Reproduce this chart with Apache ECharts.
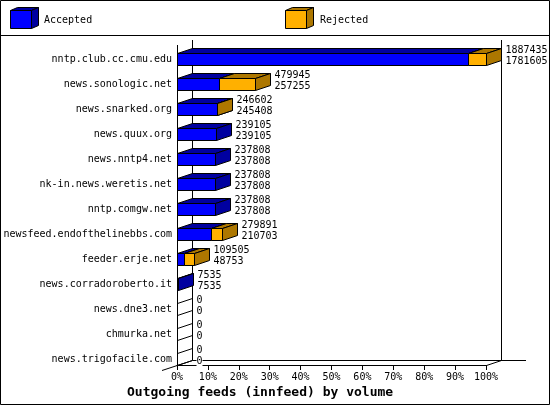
<!DOCTYPE html>
<html><head><meta charset="utf-8">
<style>html,body{margin:0;padding:0;background:#fff}#c{width:550px;height:405px}</style>
<script src="https://cdn.jsdelivr.net/npm/echarts@6/dist/echarts.min.js"></script>
</head><body><div id="c"></div>
<script>
const categories = ["nntp.club.cc.cmu.edu","news.sonologic.net","news.snarked.org","news.quux.org","news.nntp4.net","nk-in.news.weretis.net","nntp.comgw.net","newsfeed.endofthelinebbs.com","feeder.erje.net","news.corradoroberto.it","news.dne3.net","chmurka.net","news.trigofacile.com"];
const offered  = [1887435,479945,246602,239105,237808,237808,237808,279891,109505,7535,0,0,0];
const accepted = [1781605,257255,245408,239105,237808,237808,237808,210703,48753,7535,0,0,0];
const seriesNames = ["Accepted","Rejected"];
const titleText = "Outgoing feeds (innfeed) by volume";
const maxValue = Math.max(...offered);
const pct = v => v / maxValue * 100;

const MONO = '"DejaVu Sans Mono", monospace';
const BLUE = ['#0000ff','#0000a0'], ORANGE = ['#ffb000','#ad7700'];
const DX = 15, DY = -5, H = 12;
const snap = v => Math.round(v - 0.5) + 0.5;

function box(x0, x1, yc, col, isZero) {
  const t = yc - H/2, b = yc + H/2;
  const ls = {stroke:'#000', lineWidth:1};
  if (isZero) {
    // an empty bar leaves only its two edges on the side wall
    return [
      {type:'line', shape:{x1:x0,y1:t,x2:x0+DX,y2:t+DY}, style:ls},
      {type:'line', shape:{x1:x0,y1:b,x2:x0+DX,y2:b+DY}, style:ls}
    ];
  }
  return [
    {type:'polygon', shape:{points:[[x0,t],[x0+DX,t+DY],[x1+DX,t+DY],[x1,t]]}, style:{fill:col[1],...ls}},
    {type:'polygon', shape:{points:[[x1,t],[x1+DX,t+DY],[x1+DX,b+DY],[x1,b]]}, style:{fill:col[1],...ls}},
    {type:'rect', shape:{x:x0,y:t,width:x1-x0,height:H}, style:{fill:col[0],...ls}}
  ];
}
function renderBox(col, withLabels) {
  return (params, api) => {
    const i = api.value(2);
    const p0 = api.coord([api.value(0), i]);
    const p1 = api.coord([api.value(1), i]);
    const x0 = snap(p0[0]), x1 = snap(p1[0]), yc = p0[1];
    const empty = api.value(0) === api.value(1);
    const children = (withLabels && empty) ? [] : box(x0, x1, yc, col, empty);
    if (withLabels) {
      const tx = x1 + DX + 4;
      [[offered[i], -9],[accepted[i], 2]].forEach(([v,o]) => children.push({
        type:'text', z2:5,
        style:{x:tx, y:yc+o, text:String(v), fill:'#000', font:'10px '+MONO, textAlign:'left', textVerticalAlign:'middle', backgroundColor:'#fff'}
      }));
    }
    return {type:'group', children};
  };
}
const line = (x1,y1,x2,y2,w) => ({type:'line', silent:true, z:1, shape:{x1,y1,x2,y2}, style:{stroke:'#000', lineWidth:w||1}});
function legendBox(x, col) {
  const l=x+.5, r=x+21.5, t=10.5, b=28.5, dx=7, dy=-3;
  const ls={stroke:'#000',lineWidth:1};
  return [
    {type:'polygon',z:3,shape:{points:[[l,t],[l+dx,t+dy],[r+dx,t+dy],[r,t]]},style:{fill:col[1],...ls}},
    {type:'polygon',z:3,shape:{points:[[r,t],[r+dx,t+dy],[r+dx,b+dy],[r,b]]},style:{fill:col[1],...ls}},
    {type:'rect',z:3,shape:{x:l,y:t,width:r-l,height:b-t},style:{fill:col[0],...ls}}
  ];
}
const chart = echarts.init(document.getElementById('c'), null, {renderer:'canvas'});
chart.setOption({
  animation:false, backgroundColor:'#fff',
  title:{text:titleText, left:127, top:386, padding:0, textStyle:{fontFamily:MONO, fontSize:13, fontWeight:'bold', color:'#000'}},
  grid:{left:177, top:47, width:309, height:325, containLabel:false, z:2},
  xAxis:{type:'value', min:0, max:100, interval:10, offset:-7,
    axisLine:{show:true, lineStyle:{color:'#000', width:1}},
    axisTick:{show:true, length:5, lineStyle:{color:'#000'}},
    splitLine:{show:false},
    axisLabel:{formatter:'{value}%', margin:7, color:'#000', fontFamily:MONO, fontSize:10, showMinLabel:true, showMaxLabel:true}},
  yAxis:{type:'category', inverse:true, data:categories,
    axisLine:{show:false}, axisTick:{show:false},
    axisLabel:{interval:0, margin:5, color:'#000', fontFamily:MONO, fontSize:10, padding:[2,0,0,0]}},
  series:[
    {type:'custom', name:seriesNames[0], clip:false, z:3, renderItem:renderBox(BLUE,false),
     encode:{x:[0,1], y:2},
     data:accepted.map((a,i)=>[0,pct(a),i])},
    {type:'custom', name:seriesNames[1], clip:false, z:4, renderItem:renderBox(ORANGE,true),
     encode:{x:[0,1], y:2},
     data:offered.map((o,i)=>[pct(accepted[i]),pct(o),i])}
  ],
  graphic:[
    {type:'rect',silent:true,z:0,shape:{x:.5,y:.5,width:549,height:404},style:{fill:null,stroke:'#000',lineWidth:1}},
    line(0,35.5,550,35.5),
    line(177.5,45,177.5,365.5),
    line(192.5,40,192.5,360.5),
    line(501.5,40,501.5,360.5),
    line(192.5,360.5,526,360.5),
    line(162,370.5,192.5,360.5),
    line(486.5,365.5,501.5,360.5),
    ...legendBox(10,BLUE), ...legendBox(285,ORANGE),
    {type:'text',z:3,style:{x:44,y:20,text:seriesNames[0],fill:'#000',font:'10px '+MONO,textVerticalAlign:'middle'}},
    {type:'text',z:3,style:{x:320,y:20,text:seriesNames[1],fill:'#000',font:'10px '+MONO,textVerticalAlign:'middle'}}
  ]
});
</script></body></html>
